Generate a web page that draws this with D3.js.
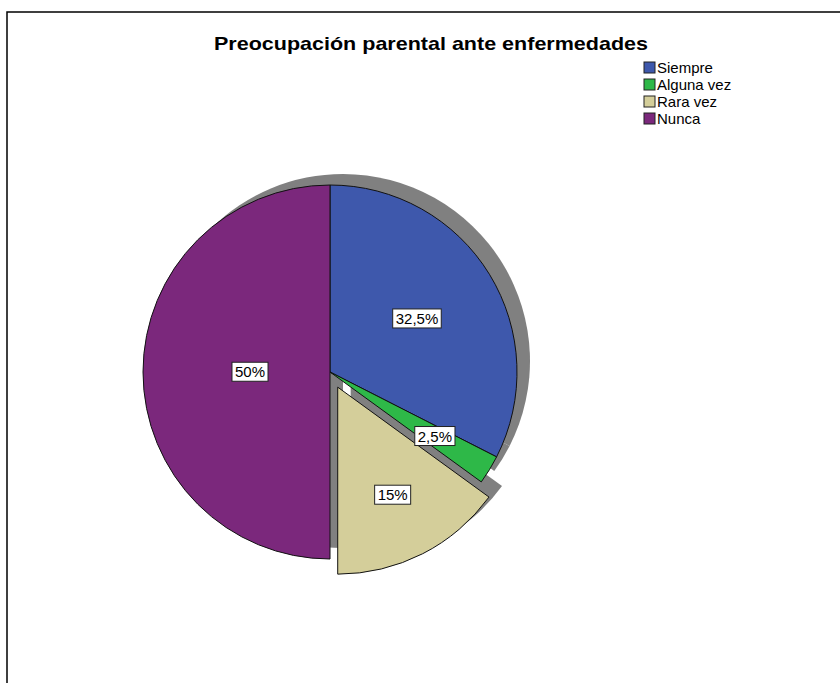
<!DOCTYPE html>
<html>
<head>
<meta charset="utf-8">
<script src="https://cdn.jsdelivr.net/npm/d3@7"></script>
<style>
  body { margin: 0; background: #fff; }
  text { font-family: "Liberation Sans", Arial, sans-serif; }
</style>
</head>
<body>
<div class="container"></div>
<script>
var w = 840;
var h = 683;

// chart data
var categories = ["Siempre", "Alguna vez", "Rara vez", "Nunca"];
var values = [32.5, 2.5, 15, 50];
var labels = ["32,5%", "2,5%", "15%", "50%"];
var colors = ["#3e58ac", "#2eb848", "#d4ce9a", "#7b287c"];

var cx = 330, cy = 372, r = 187;
var explode = [0, 0, 17, 0];
var labelDist = [102, 123, 121, 80];
var shadowDx = 13, shadowDy = -11;

var svg = d3.select('.container')
  .append('svg')
  .attr('width', w)
  .attr('height', h);

// outer frame (right and bottom run off the page)
svg.append('rect')
  .attr('x', 7)
  .attr('y', 12)
  .attr('width', 900)
  .attr('height', 800)
  .style('fill', 'none')
  .style('stroke', '#000')
  .style('stroke-width', 1.5);

svg.append('text')
  .attr('x', 431)
  .attr('y', 50)
  .attr('text-anchor', 'middle')
  .attr('textLength', 434)
  .attr('lengthAdjust', 'spacingAndGlyphs')
  .style('font-size', '19px')
  .style('font-weight', 'bold')
  .text('Preocupación parental ante enfermedades');

var pie = d3.pie().sort(null).value(d => d);
var arcs = pie(values);
var arc = d3.arc().innerRadius(0).outerRadius(r);

function offset(d, i) {
  var a = (d.startAngle + d.endAngle) / 2;
  return [Math.sin(a) * explode[i], -Math.cos(a) * explode[i]];
}

var g = svg.append('g').attr('transform', 'translate(' + cx + ',' + cy + ')');

// shadows first
g.selectAll('path.shadow')
  .data(arcs)
  .enter()
  .append('path')
  .attr('class', 'shadow')
  .attr('d', arc)
  .attr('transform', function(d, i) {
    var o = offset(d, i);
    return 'translate(' + (o[0] + shadowDx) + ',' + (o[1] + shadowDy) + ')';
  })
  .style('fill', '#808080');

g.selectAll('path.slice')
  .data(arcs)
  .enter()
  .append('path')
  .attr('class', 'slice')
  .attr('d', arc)
  .attr('transform', function(d, i) {
    var o = offset(d, i);
    return 'translate(' + o[0] + ',' + o[1] + ')';
  })
  .style('fill', (d, i) => colors[i])
  .style('stroke', '#111')
  .style('stroke-width', 1);

// labels in white boxes
var lab = g.selectAll('g.lab')
  .data(arcs)
  .enter()
  .append('g')
  .attr('class', 'lab')
  .attr('transform', function(d, i) {
    var o = offset(d, i);
    var a = (d.startAngle + d.endAngle) / 2;
    var x = o[0] + Math.sin(a) * labelDist[i];
    var y = o[1] - Math.cos(a) * labelDist[i];
    return 'translate(' + x + ',' + y + ')';
  });

lab.append('text')
  .attr('text-anchor', 'middle')
  .attr('dy', '0.35em')
  .style('font-size', '15px')
  .text((d, i) => labels[i]);

lab.each(function() {
  var t = d3.select(this).select('text');
  var bb = t.node().getBBox();
  d3.select(this).insert('rect', 'text')
    .attr('x', bb.x - 3)
    .attr('y', bb.y - 1)
    .attr('width', bb.width + 6)
    .attr('height', bb.height + 2)
    .style('fill', '#fff')
    .style('stroke', '#222')
    .style('stroke-width', 1);
});

// legend
var legend = svg.append('g')
  .attr('class', 'legend')
  .attr('transform', 'translate(644, 62)');

var item = legend.selectAll('g')
  .data(categories)
  .enter()
  .append('g')
  .attr('transform', (d, i) => 'translate(0,' + i * 17 + ')');

item.append('rect')
  .attr('width', 11)
  .attr('height', 11)
  .style('fill', (d, i) => colors[i])
  .style('stroke', '#222')
  .style('stroke-width', 1);

item.append('text')
  .attr('x', 13)
  .attr('y', 11)
  .style('font-size', '15px')
  .text(d => d);
</script>
</body>
</html>
